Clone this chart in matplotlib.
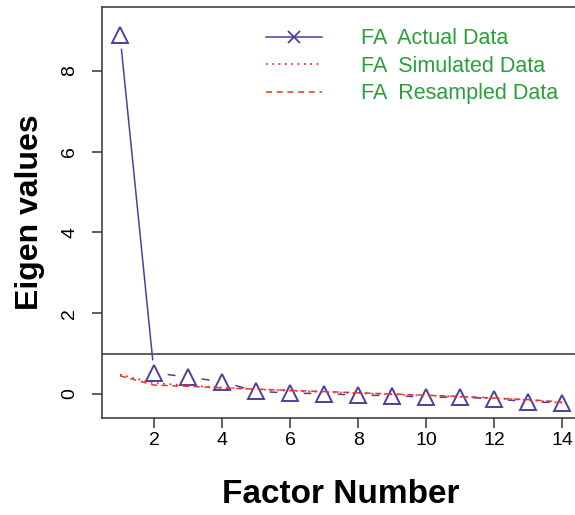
import numpy as np
import matplotlib
matplotlib.use("Agg")
import matplotlib.pyplot as plt
from matplotlib.lines import Line2D

plt.rcParams["font.family"] = ["Liberation Sans", "DejaVu Sans"]

factors = np.arange(1, 15)
fa_actual = [8.88, 0.52, 0.42, 0.30, 0.07, 0.02, 0.01, -0.03, -0.04, -0.08, -0.08, -0.12, -0.19, -0.22]
fa_simulated = [0.48, 0.27, 0.21, 0.16, 0.12, 0.08, 0.05, 0.02, -0.01, -0.04, -0.07, -0.11, -0.15, -0.22]
fa_resampled = [0.45, 0.22, 0.19, 0.15, 0.12, 0.09, 0.06, 0.03, 0.00, -0.03, -0.06, -0.10, -0.14, -0.20]

purple = "#4e3f9e"
red = "#e8352f"
green = "#2aa03c"

fig = plt.figure(figsize=(5.75, 5.15), dpi=100)
ax = fig.add_axes([0.1774, 0.1884, 0.831, 0.7985])

# actual data, R type="b" look: line with gaps around the markers
ax.plot(factors, fa_actual, color=purple, lw=1.1, zorder=2)
ax.plot(factors, fa_actual, ls="none", marker="o", ms=18, mfc="white", mec="white", zorder=3)
ax.plot(factors, fa_actual, ls="none", marker="^", ms=11.5, mfc="none", mec=purple, mew=1.4, zorder=4)

ax.plot(factors, fa_simulated, color=red, ls=(0, (1, 2.5)), lw=1.3, zorder=5)
ax.plot(factors, fa_resampled, color=red, ls=(0, (4, 3)), lw=1.1, zorder=5)
ax.axhline(1, color="#333333", lw=1.1, zorder=1)

ax.set_xlim(0.47, 14.52)
ax.set_ylim(-0.594, 9.587)
ax.set_xticks(range(2, 15, 2))
ax.set_yticks(range(0, 9, 2))
ax.tick_params(direction="out", length=7, width=1.1, color="#333333", labelsize=14)
ax.tick_params(axis="x", pad=3)
ax.tick_params(axis="y", pad=10)
for lab in ax.get_yticklabels():
    lab.set_rotation(90)
    lab.set_va("center")
for s in ax.spines.values():
    s.set_color("#333333")
    s.set_linewidth(1.1)

ax.set_xlabel("Factor Number", fontsize=24, fontweight="bold", labelpad=22)
ax.set_ylabel("Eigen values", fontsize=23, fontweight="bold", labelpad=12)

handles = [
    Line2D([], [], color=purple, lw=1.1, marker="x", ms=8, mew=1.3),
    Line2D([], [], color=red, ls=(0, (1, 2.5)), lw=1.3),
    Line2D([], [], color=red, ls=(0, (4, 3)), lw=1.1),
]
labels = ["FA  Actual Data", "FA  Simulated Data", "FA  Resampled Data"]
leg = ax.legend(handles, labels, loc="upper right", bbox_to_anchor=(0.995, 0.995), frameon=False,
                fontsize=15.5, handlelength=2.6, handletextpad=1.8, labelspacing=0.3)
for t in leg.get_texts():
    t.set_color(green)

fig.savefig("out.png", dpi=100)
